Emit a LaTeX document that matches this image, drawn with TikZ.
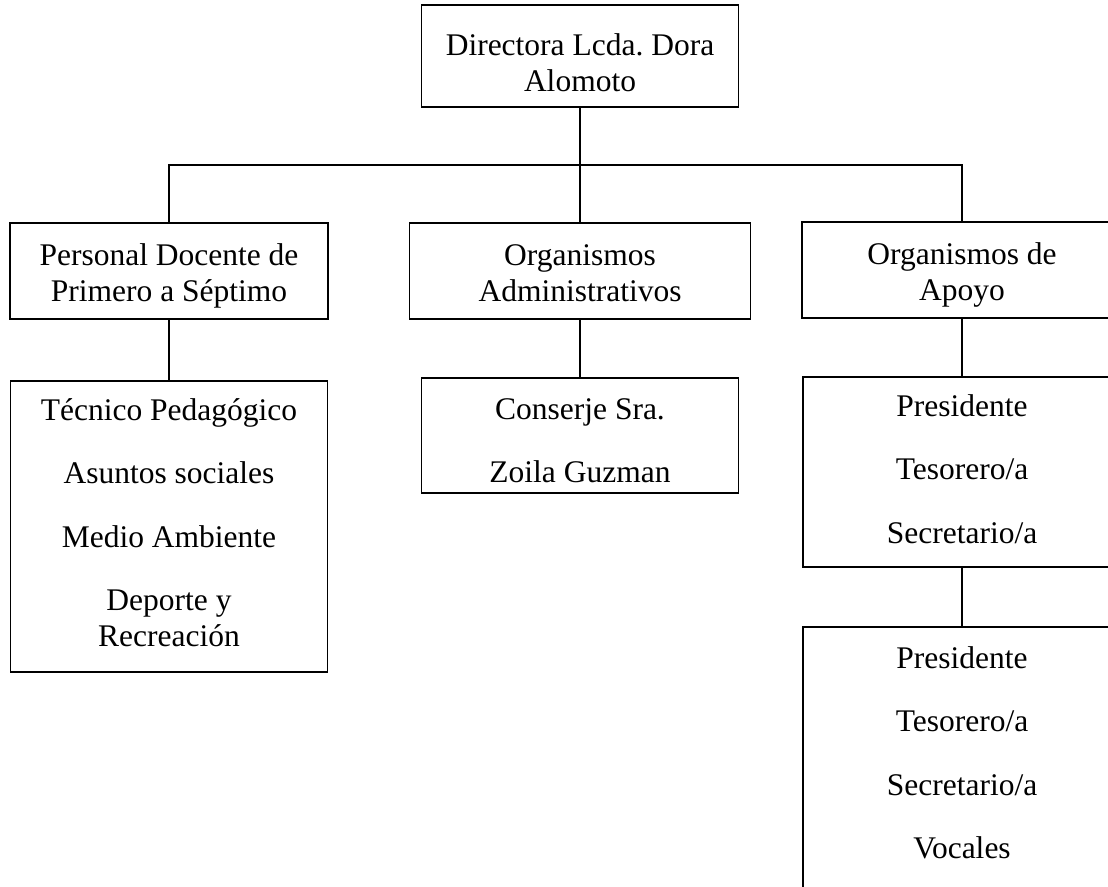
\documentclass[tikz,border=0pt]{standalone}
\usepackage{fontspec}
\setmainfont{Liberation Serif}
\newcommand\fixh[1]{\rule{0pt}{#1pt}}
\newcommand\fixd[1]{\rule[-#1pt]{0pt}{#1pt}}
\begin{document}
\begin{tikzpicture}[x=1pt,y=-1pt,
  box/.style={draw, line width=1.5pt, rectangle, inner sep=0pt, align=center,
    font=\fontsize{31.5}{36}\selectfont},
  txt/.style={inner sep=0pt, align=center, font=\fontsize{31.5}{36}\selectfont},
  conn/.style={line width=1.5pt}]
\useasboundingbox (0,0) rectangle (1108,886);
\clip (0,0) rectangle (1108,886);
\fill[white] (0,0) rectangle (1108,886);
\coordinate (bus) at (0,165);
% level 1
\node[box, minimum width=317pt, minimum height=102pt] (top) at (580,56)
  {\fixh{44}Directora Lcda.\ Dora\\Alomoto\fixd{10}};
% level 2
\node[box, minimum width=318pt, minimum height=96pt] (pd) at (169,271)
  {\fixh{34}Personal Docente de\\Primero a Séptimo\fixd{10}};
\node[box, minimum width=341pt, minimum height=96pt] (oa) at (580,271)
  {\fixh{34}Organismos\\Administrativos\fixd{10}};
\node[box, minimum width=320pt, minimum height=96pt] (ap) at (962,270)
  {\fixh{34}Organismos de\\Apoyo\fixd{10}};
% level 3
\node[box, minimum width=317pt, minimum height=291pt] (tp) at (169,526.5)
  {\fixh{23.5}Técnico Pedagógico\\[27.5pt]Asuntos sociales\\[27.5pt]Medio Ambiente\\[27.5pt]Deporte y\\Recreación\fixd{10}};
\node[box, minimum width=317pt, minimum height=115pt] (cs) at (580,435.5)
  {\fixh{40.5}Conserje Sra.\\[27.5pt]Zoila Guzman\fixd{10}};
\node[box, minimum width=318pt, minimum height=190pt] (p1) at (962,472)
  {\fixh{25}Presidente\\[27.5pt]Tesorero/a\\[27.5pt]Secretario/a\fixd{10}};
\node[box, minimum width=318pt, minimum height=300pt] (p2) at (962,777) {};
\node[txt, anchor=north] (p2t) at ([yshift=-20pt]p2.north)
  {Presidente\\[27.5pt]Tesorero/a\\[27.5pt]Secretario/a\\[27.5pt]Vocales};
% connectors
\draw[conn] (top.south) -- (oa.north);
\draw[conn] (pd.north) -- (pd.north |- bus) -- (ap.north |- bus) -- (ap.north);
\draw[conn] (pd.south) -- (tp.north);
\draw[conn] (oa.south) -- (cs.north);
\draw[conn] (ap.south) -- (p1.north);
\draw[conn] (p1.south) -- (p2.north);
\end{tikzpicture}
\end{document}
